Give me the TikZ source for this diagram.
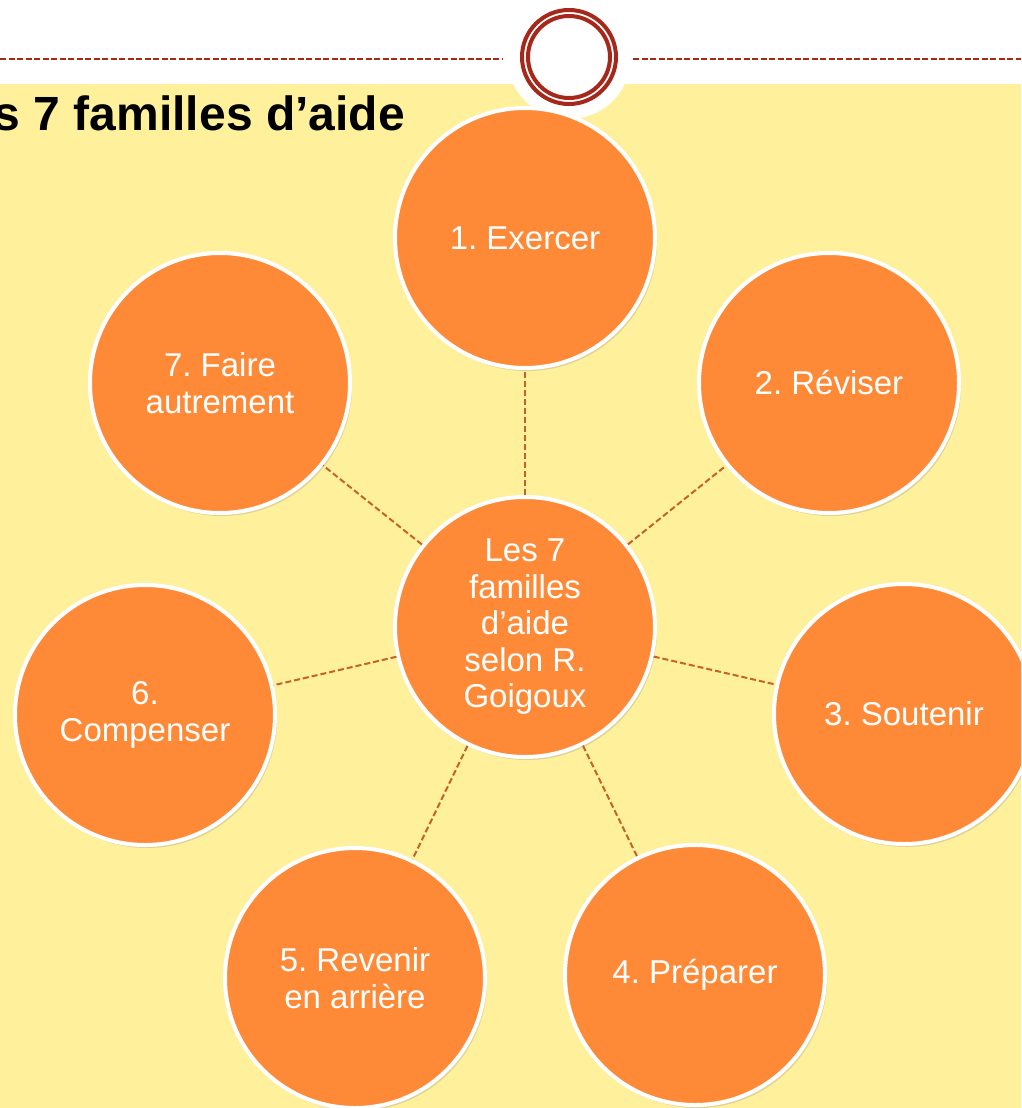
\documentclass[tikz,border=0pt]{standalone}
\usepackage{fontspec}
\setmainfont{Liberation Sans}
\usetikzlibrary{shadows}
\frenchspacing
\definecolor{bgyellow}{HTML}{FFF09C}
\definecolor{orangefill}{HTML}{FE8A38}
\definecolor{ringred}{HTML}{A5281B}
\definecolor{linkcol}{HTML}{C4622D}
\tikzset{
  famille/.style={circle, fill=orangefill, draw=white, line width=4pt,
    minimum size=260pt, inner sep=0pt, align=center, text=white,
    font=\frenchspacing\fontsize{33}{36.5}\selectfont,
    drop shadow={opacity=0.25, shadow xshift=2pt, shadow yshift=-3pt}},
  lien/.style={draw=linkcol, line width=2pt, dash pattern=on 6pt off 3pt},
  ring/.style={draw=ringred, line width=4pt},
  topline/.style={draw=ringred, line width=2pt, dash pattern=on 6pt off 2.5pt},
}
\begin{document}
\begin{tikzpicture}[x=1pt, y=-1pt]
\useasboundingbox (0,0) rectangle (1021,1108);
\clip (0,0) rectangle (1021,1108);
\fill[white] (0,0) rectangle (1021,84);
\fill[bgyellow] (0,84) rectangle (1021,1108);
% top ornament
\coordinate (tl0) at (0,59.5);
\coordinate (tl1) at (503,59.5);
\coordinate (tr0) at (633,59.5);
\coordinate (tr1) at (1021,59.5);
\draw[topline] (tl0) -- (tl1);
\draw[topline] (tr0) -- (tr1);
\coordinate (orn) at (569,57);
\fill[white] (orn) circle (62);
\draw[ring] (orn) circle (47);
\draw[ring] (orn) circle (41);
% title
\node[anchor=base east, inner sep=0pt, font=\fontsize{48}{52}\selectfont\bfseries] (title) at (405,130) {s 7 familles d’aide};
% circles
\node[famille] (c) at (525,627) {Les 7\\familles\\d’aide\\selon R.\\Goigoux};
\node[famille] (n1) at (525,238) {1. Exercer};
\node[famille] (n2) at (829,383) {2. Réviser};
\node[famille] (n3) at (904,714) {3. Soutenir};
\node[famille] (n4) at (695,975) {4. Préparer};
\node[famille] (n5) at (355,978) {5. Revenir\\en arrière};
\node[famille] (n6) at (145,715) {6.\\Compenser};
\node[famille] (n7) at (220,383) {7. Faire\\autrement};
\foreach \n in {n1,n2,n3,n4,n5,n6,n7} { \path[lien] (c) -- (\n); }
\end{tikzpicture}
\end{document}
